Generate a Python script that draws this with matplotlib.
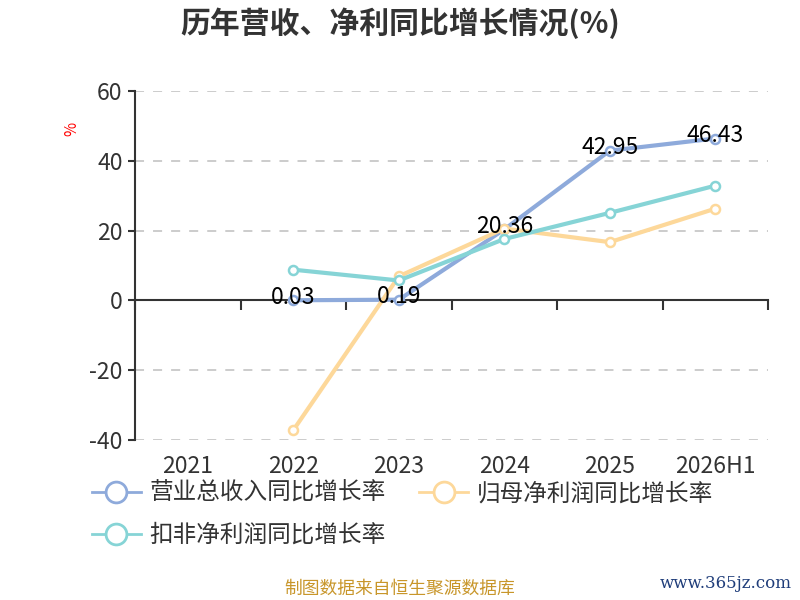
import numpy as np
import matplotlib.pyplot as plt
from matplotlib.lines import Line2D

plt.rcParams['font.family'] = ['Noto Sans CJK SC', 'DejaVu Sans']

# data
years = ['2021', '2022', '2023', '2024', '2025', '2026H1']
revenue = [np.nan, 0.03, 0.19, 20.36, 42.95, 46.43]
net_profit = [np.nan, -37.2, 6.9, 20.6, 16.7, 26.3]
net_profit_ded = [np.nan, 8.8, 5.7, 17.6, 25.1, 32.9]
yticks = [-40, -20, 0, 20, 40, 60]

names = ['营业总收入同比增长率', '归母净利润同比增长率', '扣非净利润同比增长率']
colors = ['#8eaadb', '#fdd89a', '#86d4d6']

fig = plt.figure(figsize=(8, 6), dpi=100)
ax = fig.add_axes([0.169, 0.267, 0.791, 0.581])

x = np.arange(len(years))
series = [revenue, net_profit, net_profit_ded]
for vals, c in zip(series, colors):
    ax.plot(x, vals, color=c, lw=3, marker='o', ms=6.5, mfc='white',
            mec=c, mew=1.8, zorder=3)

for xi, v in zip(x, revenue):
    if not np.isnan(v):
        ax.annotate(f'{v:.2f}', (xi, v), xytext=(0, 2), textcoords='offset points',
                    ha='center', va='center', fontsize=16.5, color='black', zorder=5)

ax.set_xlim(-0.5, len(years) - 0.5)
ax.set_ylim(-40, 60)
ax.set_yticks(yticks)
ax.set_yticklabels([str(t) for t in yticks])
ax.tick_params(axis='y', labelsize=16.5, colors='#333333', length=5, width=1.5,
               labelcolor='#333333', pad=4)
ax.grid(axis='y', ls=(0, (5, 5)), color='#c8c8c8', lw=1.3)
ax.set_axisbelow(True)

# x axis sits on the zero line, ticks on category boundaries
ax.spines['bottom'].set_position(('data', 0))
ax.spines['bottom'].set_color('#333333')
ax.spines['bottom'].set_linewidth(1.5)
ax.spines['left'].set_color('#333333')
ax.spines['left'].set_linewidth(1.5)
ax.spines['top'].set_visible(False)
ax.spines['right'].set_visible(False)
ax.set_xticks(np.arange(len(years) + 1) - 0.5)
ax.set_xticklabels([])
ax.tick_params(axis='x', direction='out', length=7, width=1.5, colors='#333333')
for xi, lab in zip(x, years):
    ax.text(xi, -47.8, lab, ha='center', va='center', fontsize=16.5,
            color='#333333', transform=ax.transData, clip_on=False)

fig.text(0.09, 0.785, '%', color='red', fontsize=11, rotation=90,
         ha='center', va='center')

fig.text(0.5, 0.962, '历年营收、净利同比增长情况(%)', ha='center', va='center',
         fontsize=21.5, fontweight='bold', color='#333333')

# legend, ordered so columns come out as in the picture
handles = [Line2D([], [], color=c, lw=2, marker='o', ms=15, mfc='white',
                  mec=c, mew=2) for c in colors]
order = [0, 2, 1]
fig.legend([handles[i] for i in order], [names[i] for i in order],
           ncol=2, loc='upper left', bbox_to_anchor=(0.088, 0.232),
           frameon=False, fontsize=17, handlelength=2.1, handletextpad=0.35,
           columnspacing=1.4, labelspacing=0.8, labelcolor='#333333')

fig.text(0.5, 0.018, '制图数据来自恒生聚源数据库', ha='center', va='center',
         fontsize=12.8, color='#c8962a')
fig.text(0.99, 0.028, 'www.365jz.com', ha='right', va='center', fontsize=12,
         color='#1f3d7a', family='DejaVu Serif')

fig.savefig('out.png', dpi=100)
